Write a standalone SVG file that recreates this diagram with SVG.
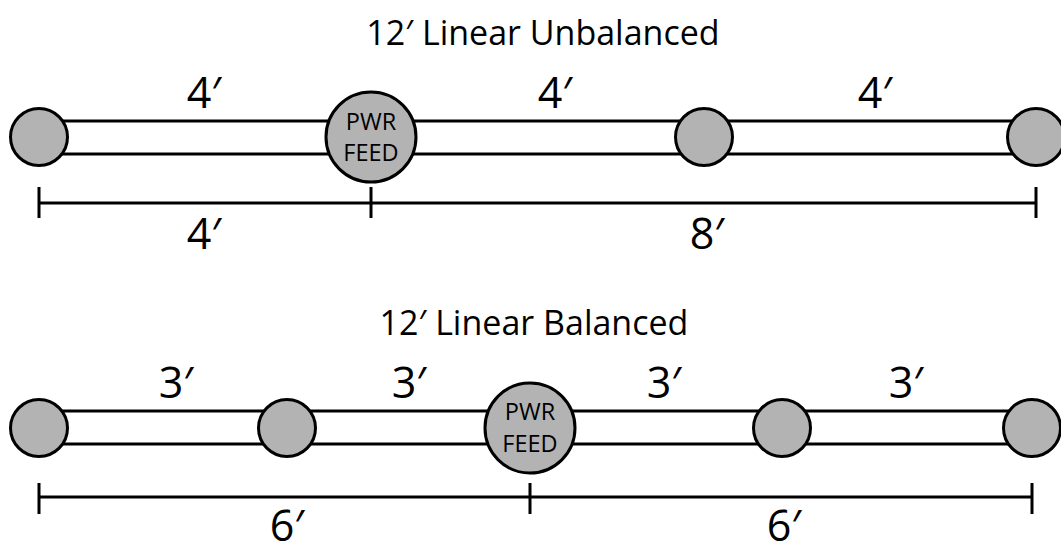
<svg xmlns="http://www.w3.org/2000/svg" width="1061" height="552" viewBox="0 0 1061 552">
<style>
.bar{fill:#fff;stroke:#000;stroke-width:3}
.node{fill:#b3b3b3;stroke:#000;stroke-width:3}
.dim{stroke:#000;stroke-width:3;fill:none}
.title{font-family:"Open Sans",sans-serif;font-size:34px;fill:#000;text-anchor:middle}
.len{font-family:"Open Sans",sans-serif;font-size:43px;fill:#000;text-anchor:middle}
.pwr{font-family:"Open Sans",sans-serif;font-size:23.5px;fill:#000;text-anchor:middle}
</style>
<rect width="1061" height="552" fill="#fff"/>
<text class="title" x="543" y="45">12′ Linear Unbalanced</text>
<text class="title" x="534" y="335">12′ Linear Balanced</text>
<g id="connectors">
<rect class="bar" x="39" y="121" width="998" height="33"/>
<rect class="bar" x="39" y="411" width="994" height="33"/>
<path class="dim" d="M39 203H1036M39 187V218M371 187V218M1036 187V218"/>
<path class="dim" d="M39 497H1032M39 483V514M530 483V514M1032 483V514"/>
</g>
<g id="top-labels">
<text class="len" x="204" y="108">4′</text>
<text class="len" x="555" y="108">4′</text>
<text class="len" x="875" y="108">4′</text>
<text class="len" x="204" y="249">4′</text>
<text class="len" x="707" y="249">8′</text>
</g>
<g id="bottom-labels">
<text class="len" x="176" y="398">3′</text>
<text class="len" x="409" y="398">3′</text>
<text class="len" x="664" y="398">3′</text>
<text class="len" x="906" y="398">3′</text>
<text class="len" x="287" y="541">6′</text>
<text class="len" x="784" y="541">6′</text>
</g>
<g id="u1"><circle class="node" cx="39" cy="137" r="28.5"/></g>
<g id="u-pwr"><circle class="node" cx="371" cy="137" r="45"/><text class="pwr" x="371" y="130">PWR</text><text class="pwr" x="371" y="160.5">FEED</text></g>
<g id="u3"><circle class="node" cx="704" cy="137" r="28.5"/></g>
<g id="u4"><circle class="node" cx="1036" cy="137" r="28.5"/></g>
<g id="b1"><circle class="node" cx="39" cy="428" r="28.5"/></g>
<g id="b2"><circle class="node" cx="287" cy="428" r="28.5"/></g>
<g id="b-pwr"><circle class="node" cx="530" cy="428" r="45"/><text class="pwr" x="530" y="420">PWR</text><text class="pwr" x="530" y="451.5">FEED</text></g>
<g id="b4"><circle class="node" cx="782" cy="428" r="28.5"/></g>
<g id="b5"><circle class="node" cx="1032" cy="428" r="28.5"/></g>
</svg>
